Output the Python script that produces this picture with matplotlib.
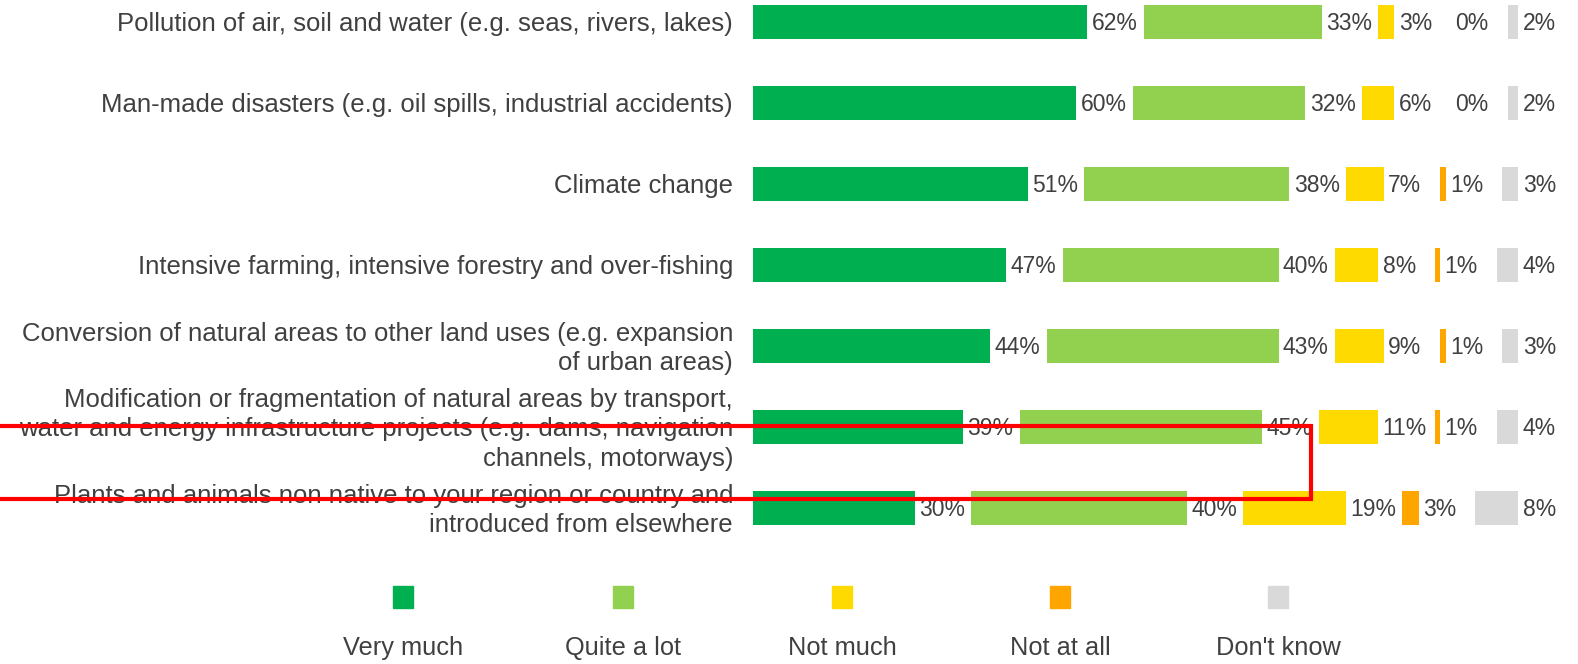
import matplotlib.pyplot as plt
from matplotlib.patches import Rectangle

plt.rcParams['font.family'] = ['Liberation Sans', 'DejaVu Sans']

categories = [
    'Pollution of air, soil and water (e.g. seas, rivers, lakes)',
    'Man-made disasters (e.g. oil spills, industrial accidents)',
    'Climate change',
    'Intensive farming, intensive forestry and over-fishing',
    'Conversion of natural areas to other land uses (e.g. expansion\nof urban areas)',
    'Modification or fragmentation of natural areas by transport,\nwater and energy infrastructure projects (e.g. dams, navigation\nchannels, motorways)',
    'Plants and animals non native to your region or country and\nintroduced from elsewhere',
]
series_names = ['Very much', 'Quite a lot', 'Not much', 'Not at all', "Don't know"]
very_much = [62, 60, 51, 47, 44, 39, 30]
quite_a_lot = [33, 32, 38, 40, 43, 45, 40]
not_much = [3, 6, 7, 8, 9, 11, 19]
not_at_all = [0, 0, 1, 1, 1, 1, 3]
dont_know = [2, 2, 3, 4, 3, 4, 8]

colors = ['#00B050', '#92D050', '#FFDA00', '#FFA500', '#D9D9D9']
text_col = '#404040'

W, H = 1578, 664
fig = plt.figure(figsize=(W / 100, H / 100), dpi=100)
ax = fig.add_axes([0, 0, 1, 1])

px_per = 5.39      # pixels per percent
x0_px = 753        # left of bars
row0_px = 22       # first row centre from top
row_px = 81        # row spacing
gap = 10.5         # gap between segments, in percent units

ax.set_xlim(-x0_px / px_per, (W - x0_px) / px_per)
ax.set_ylim((H - row0_px) / row_px, -row0_px / row_px)
ax.axis('off')

all_series = [very_much, quite_a_lot, not_much, not_at_all, dont_know]
ys = list(range(len(categories)))
left = [0.0] * len(categories)
for vals, col in zip(all_series, colors):
    ax.barh(ys, vals, left=left, height=0.42, color=col)
    for y, v, l in zip(ys, vals, left):
        ax.text(l + v + 0.8, y + 0.02, f'{v}%', va='center', ha='left',
                fontsize=16.5, color=text_col)
    left = [l + v + gap for l, v in zip(left, vals)]

for y, c in zip(ys, categories):
    ax.text(-3.7, y + 0.03, c, ha='right', va='center', fontsize=18.5,
            color=text_col, linespacing=1.27)

# legend
leg_x = [403, 623, 842, 1060, 1278]
for xc, name, col in zip(leg_x, series_names, colors):
    fig.add_artist(Rectangle(((xc - 10) / W, 1 - 608 / H), 20 / W, 22 / H,
                             transform=fig.transFigure, color=col))
    fig.text(xc / W, 1 - 648 / H, name, ha='center', va='center',
             fontsize=18.3, color=text_col)

# red highlight box
fig.add_artist(Rectangle((-0.01, 1 - 499 / H), 0.01 + 1311 / W, 73.4 / H,
                         transform=fig.transFigure, fill=False,
                         edgecolor='#FF0000', linewidth=3))

fig.savefig('out.png', dpi=100)
